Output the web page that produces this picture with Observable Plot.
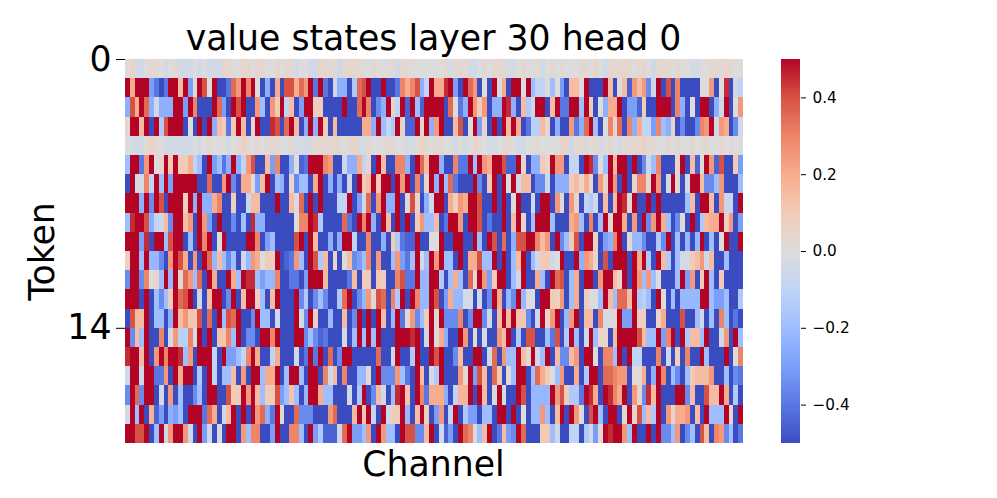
<!DOCTYPE html>
<html>
<head>
<meta charset="utf-8">
<script src="https://cdn.jsdelivr.net/npm/d3@7"></script>
<script src="https://cdn.jsdelivr.net/npm/@observablehq/plot@0.6"></script>
<style>
html,body{margin:0;padding:0;background:#fff;overflow:hidden}
#chart{display:flex;width:997px;height:498px}
#chart svg{display:block;flex:none}
</style>
</head>
<body>
<div id="chart"></div>
<script>
// Values in tenths, one array per token row.
const row00=[0,.6,-.4,-.4,0,.3,.3,0,-.4,0,.3,-.4,-.4,-.4,0,-.4,0,-.4,-.4,-.4,.4,.4,0,0,.4,.4,0,.4,.4,0,0,.4,0,.3,.3,-.4,0,0,-.4,-.4,.4,.4,.3,.3,-.5,.3,.4,.4,.3,0,0,.3,0,0,0,.3,-.4,.3,.3,0,0,0,0,0,0,0,.3,-.3,.3,.3,.3,-.4,-.4,0,.3,0,.3,.4,.3,-.3,-.3,0,.3,0,0,.3,-.4,0,.3,0,.3,0,0,0,.3,.3,0,.4,0,-.4,.4,.3,.3,.4,.4,0,.3,.4,0,-.5,.4,.3,.3,0,.3,0,0,-.3,-.3,0,0,.3,.3,.3,.5,.3,0,0];
const row01=[5,2,5,5,5,-3,-4,-5,-4,5,5,1.5,5,-3,0,5,4,0,5,-5,-5,-4,3.5,2.5,5,3,5,0,-5,-2.5,-5,2,-5,4,4,2,3.5,2.5,5,-4,5,-4,-5,-.5,-2.5,-2.5,-5,-1.5,3.5,4,5,-5,-5,5,-5,-5,-4,3,2,3,4,-2.5,-1,5,2,2,4.5,5,-3,-5,5,3.5,2.5,-5,0,-5,5,0,2,-5,5,5,0,5,-2,-1,-1,0,-2,0,-3,-5,1.5,1.5,0,5,-5,-5,-5,5,1.5,-5,0,1.5,-4.5,2.5,1.5,2.5,-3.5,-.5,5,-5,4,-5,3,-5,-5,-5,-5,0,0,2.5,-5,0,4.5,-5,-.5,-1];
const row02=[-2.5,4,2,5,3.5,-2.5,-.5,-2.5,-2.5,-2.5,5,5,-3,5,3,-5,-5,-5,5,3.5,-3,-5,5,4,5,-5,-5,2.5,-2,-5,2.5,1,5,-1,1.5,-5,-3,5,5,.8,.8,-5,-5,-5,-5,5,-5,-5,3.5,5,3,-5,-3.5,-2.5,5,.5,-1,5,-4.5,5,-2,-4.5,5,5,5,5,-5,3.5,0,-4,-2.5,5,2.5,1,2.5,-5,-2.5,-2.5,5,4.5,-2.5,-5,1.5,-1.5,-.5,5,5,-5,1.5,5,-4,-4,5,5,-2,5,1,-5,0,-2.5,2,2,5,-5,-3,-3,-4.5,1,-5,-5,5,5,5,-5,3,-2.5,-5,0,-5,5,5,-5,-2.5,-.5,5,-5,0,2.5];
const row03=[.5,5,5,1.5,5,-5,5,-1.5,4,5,5,5,-5,0,-5,5,-5,5,-2.5,1.5,1,-4,1,5,1.5,-5,.5,5,-5,-5,4.5,4,-5,3.5,5,1.5,-5,-2.5,5,-2.5,5,1,-5,1.5,-5,-5,-5,-5,-5,2,2,-2.5,5,-2,-1,-1.5,5,.5,-4.5,-4.5,5,.5,5,-2.5,2.5,5,-5,-5,1.5,4,-5,0,5,-3,.5,-5,5,-5,5,1.5,5,2,-5,-4,-1.2,-1.2,1.5,.5,-5,-2.5,-5,-5,2.5,-4,-2.5,3.5,5,-2,-5,0,3,.5,3.5,-5,3,-2.5,2,-1,-1,-3,3,-2,-2.5,.5,-5,-3.5,-5,-5,-3.5,3,2.5,5,-.5,2.5,2,-5,-3.5,-.5];
const row04=[0,-.3,-.4,-.4,.3,.6,.3,0,-.3,-.3,-.4,-.4,-.4,-.3,0,-.3,0,.3,0,0,0,-.3,0,.3,.6,.3,0,.3,0,.3,.3,.3,0,0,.3,-.3,-.3,-.4,-.3,.3,.3,.3,.3,.4,.3,0,.3,.6,-.3,-.3,.3,0,0,0,.3,.3,0,0,-.3,-.3,.3,.6,.3,0,.3,.3,0,0,-.3,0,-.3,0,.6,.3,0,-.3,-.3,0,.3,.3,0,-.4,-.4,0,0,.3,0,0,0,0,.4,.6,-.6,.3,.3,.3,0,.3,-.3,0,.3,0,-.3,.3,.3,.3,.4,.6,.3,.3,0,0,.3,0,.3,0,0,.3,0,.3,.3,0,0,.3,0,.3,0,0];
const row05=[-2,5,5,-4,2.5,5,0,.5,5,1,5,1,1,2,-1,-2,-5,5,-3,-2,-4,-2.5,5,-2.5,-1,2.5,4,-5,-5,1.5,-3,3,-5,-5,-2.5,0,-4.5,-4,5,5,5,3,2.5,-5,-5,-.5,-2.5,-2.5,2,-1,.5,-5,5,1.5,-5,-5,3,3,-2.5,-5,5,3.5,1.5,5,5,-2.5,-5,-5,3,-4,-4,5,-2,5,2.5,2,5,5,4,-4.5,-4.5,5,.5,-5,-2.5,-2.5,1,.5,5,2.5,2.5,-5,-.8,-.8,-5,5,4.5,-3.5,0,-2,5,1.5,5,5,-5,5,-5,-3.5,-.5,-2,3,-5,-5,-5,.5,5,-5,1.5,-4.5,0,5,2.5,-4.5,4,-5,-5,1,-3];
const row06=[-5,5,-.3,-.3,3,-1,5,-2,5,-3,5,5,5,5,5,-5,-5,3.5,-5,-5,2.5,5,-3.5,-5,2,2,0,-3,1.5,5,-5,-2,-2.5,-5,.5,-3.5,-2,-2,-5,2,5,-5,-2.5,-5,-2.5,-5,-.5,-5,5,1,1.5,5,1,5,5,-5,5,2.5,5,-5,3,-4.5,.5,5,-2.5,5,-2,3.5,-4,-5,-5,-5,5,-3.5,-5,1,5,-5,5,0,5,-.5,1.5,1.5,-5,-3.5,-3.5,-.5,-5,-2.5,-2.5,-2.5,1,1.5,.5,2,.3,-5,2.5,.5,5,2.5,-5,5,-5,.5,3,3,.3,5,2.5,-5,-.3,5,.3,-5,-.3,5,5,1.5,-3.5,-3.5,-2,2.5,-5,-5,-5,-2];
const row07=[5,5,5,-2.5,5,-3.5,5,4,-5,5,5,5,.8,5,-2.5,5,-2.5,-2.5,2,3,-5,-5,.8,-5,-5,-.7,1.5,1.5,-5,-5,-5,5,-5,-5,1.5,-.2,3.5,-5,5,-5,5,-5,-5,-5,-1,-1,5,-5,-3,-.5,3.5,-5,2.5,5,-2.5,-2.5,5,-5,.3,4,.5,-5,-2.5,-.5,5,5,-5,2,.8,2.5,2,5,5,4,-5,-5,5,-5,5,-5,0,5,-5,-5,-.5,-5,5,5,-5,2.5,.2,-5,2.5,.5,-5,-1,-1.5,-.5,-5,1.5,-5,1.5,5,4.5,.3,5,-5,-5,5,-5,5,-5,-5,-5,-5,-5,-2,1.5,-5,5,5,1.5,-5,2.5,-.7,-.7,-5,5];
const row08=[-2,4.5,5,5,4,-2.5,-1,-.5,1.5,-3.5,5,5,1.5,2.5,-5,5,2.5,-3,-5,5,-5,-5,-3.5,-5,-2,-5,4.5,-2.5,-2.5,-5,-5,-5,-5,-5,-5,0,3,3,5,4.5,-1.5,-5,-5,-5,-5,3.5,-4,-5,5,3,5,-2.5,-5,5,1.5,-5,5,-5,5,-5,1,2.5,-2,-2,1.5,-5,-4,5,5,2.5,-5,5,5,4,-5,-4,-5,-5,5,-5,1.5,5,.5,-5,-2,5,5,5,-2,-5,-5,-5,2,2.5,-2,-5,3,-5,-2,5,.5,5,5,2,-5,2.5,-5,5,-3.5,2.5,5,2,-2,-5,-3.5,.3,-5,5,-5,-1.5,1.5,2,2,5,.8,2.5,-5,-3];
const row09=[5,5,5,-3,4.5,-5,5,5,-2,4,5,5,-5,-2,-5,5,3,5,-5,0,5,-5,-5,-5,-5,5,5,3,-5,-3,-2,-5,-5,-5,-5,4,5,-5,5,1.5,-5,-5,-2.5,-5,-2.5,5,5,-1,-5,-5,3,-5,-5,-2.5,-5,1,-1.5,-4,-4.5,-4.5,5,-5,-5,0,0,5,-5,-5,5,5,-5,-5,5,-2,-5,5,4,-5,3.5,-5,-2.5,4,4,5,5,3,1.5,2.5,-5,5,-3.5,-2,1,4,-5,5,5,.5,-5,-3,-2.5,3,5,-5,.3,-2.2,-2.2,-3.5,-5,-5,-1.5,-3.5,5,-5,-2,-5,-2.2,-5,-2.2,5,-5,-2,-5,0,5,-5,-5,5];
const row10=[.8,5,5,-2,5,-2.2,-2.2,-3.5,-5,2.5,5,4,2,-5,2.5,-5,5,3.5,-2.2,1.5,-2,-3.5,-2,-5,-.5,-2.2,2.5,2,0,1,.8,5,-5,-4.5,-4,2.5,-2,-5,5,4,-1.5,1.5,-5,.5,-5,0,1.5,-3.5,-3,-2,3,-5,2.5,-5,-5,-2,2.5,-3,-4,-2,5,-.3,-2,5,2.5,5,-2,-2,-5,5,-5,2,2,4,-2,-2,5,-5,5,-5,-2,1.5,5,-5,-2,-.5,1,1,-.5,0,5,-5,-5,5,-2.5,2.5,2,.5,-5,4,-5,5,5,5,-5,5,2,5,-1.5,-5,5,1.5,-1.5,-5,-2,-.3,-.3,1,1.5,2.5,-.5,1.5,-5,-5,-2,-5,-5,-5];
const row11=[-3.5,5,5,-3.5,3,0,.5,-2,5,-2.2,5,.3,3.5,2.5,-2,3.5,-5,5,2,-5,-5,5,2,-2,5,4.5,4.5,-2,-3,-2.2,-2.2,3,-5,-5,-4,-4,-5,-3,5,5,5,1.5,-5,-5,-5,-5,-4,1.5,-5,.9,.9,-5,1,.8,-5,-5,3,4,-4,-4,5,-2.2,-2.2,5,5,-1.5,-5,-2,2,-2,-5,3.5,.3,5,2.5,-3,1,5,5,-5,-2,-.5,5,-5,-5,2,-2,-5,5,3.5,4,-5,-2,2,-5,5,5,-5,2.5,5,5,1.5,.5,5,-5,5,2.5,-2,2.5,-2,0,-5,-5,-5,-2,5,-3,2.5,-5,1,5,-2,-5,1,-5,-5,-5,-5];
const row12=[5,5,5,-5,5,-5,-2,-3.5,-2,1,5,3.5,4,5,-5,-.5,-5,1.5,5,5,-5,-3.5,5,-5,1.5,5,5,.8,-2,-5,1.5,5,-5,-5,-5,5,-3.5,-1.5,-5,-3.5,-2,-3.5,-5,-5,-1.5,3.5,5,-5,-3.5,-2.2,2.5,.3,4,3.5,-5,3,-1.5,5,-5,5,3,-2.2,-2.2,5,4,-5,-3,2,-2.2,-2.2,-.3,-.3,-5,-.5,-5,-3.5,5,2,-5,-2.2,-3.5,5,-2.2,0,0,-5,5,5,1,.8,2.5,-5,-2,2,-5,.8,0,0,-2,5,1.5,-2,3.5,3.5,1.5,5,-1.5,-1.2,-2,-5,5,0,-5,-2,-5,-2.2,-2.2,-2.2,-2.2,5,5,-2,-3,-3,-2,-5,-5,-1.5];
const row13=[-5,4,1.5,1.5,5,-5,-2,-2,-5,-2.5,5,1.5,2.5,1.2,1.2,4,-5,3.5,-5,5,-2,4,3.5,5,-5,-5,-3.5,5,-2,-2,-5,-.5,-5,-5,-5,5,-.3,-3.5,5,.8,-5,-5,-2.2,-5,-5,1.5,-5,-3.5,5,-5,5,-5,5,1.5,-5,-2.2,5,-4,.3,2.5,-3.5,-2,1,5,.3,5,-3.5,-3.5,-3.5,3,-5,-3.5,5,5,-3.5,-.5,-5,1.5,5,1.5,5,1.2,1.2,-3.5,-5,-.5,5,.5,2.5,5,-5,-2.2,2.5,5,-5,1.5,1.5,-5,3,-.2,-.2,.5,5,-3,-3,5,.8,.8,-5,-5,.5,2,-5,-5,-5,4,-5,-5,-2,-.5,-5,-2,-5,3,-2,-5,-4,-5];
const row14=[5,-3.5,1.5,-2,5,-5,-5,3,-5,-.3,2.5,-1.2,-1.2,3,-.3,5,-5,5,-5,1.2,1.2,3,-2,5,-5,-3.5,-3.5,-5,5,5,3,5,-5,-5,-5,5,5,-3.5,-2,-3.5,-4.5,-4,-5,-5,-5,-.3,-5,-2,5,-2,5,-2,5,-5,-5,-5,5,5,5,4.5,5,-5,-.5,5,0,2,-2.5,-5,-5,5,2.5,-5,.2,-5,-.3,-5,-5,2.5,1.5,5,-5,-1.5,-5,4,4,-5,-5,-2,-4,4,-5,-1.5,5,-2,-5,-.5,5,-2,.5,.5,-5,1.5,5,5,5,5,4,1.5,-2,-2,5,-3,3,5,-5,5,-1.5,1.5,1.5,-2,5,-5,-5,-.5,2.5,-5,5,-2];
const row15=[4.5,5,5,1.5,5,-5,2.5,5,3,5,5,4.5,-2,2.5,-5,5,5,5,-1,-5,5,-3,-3,-2,-1,3,5,2,-5,-5,-1,2,-5,-5,-5,-.5,-5,-4,5,-4,5,-5,3.5,-5,-3.5,5,5,-5,-5,-5,-5,-5,3.5,-5,-5,-.5,5,-5,-5,-1.5,5,-5,-5,5,4,5,-5,-5,-3.5,1.5,-5,-5,5,5,-5,-.3,3.5,-5,2.5,-2,-2,5,1.5,.3,5,-.5,-2,5,-5,1.5,-3.5,-3.5,1.5,2.5,-5,5,5,0,-5,3,3,-2,5,-5,5,-1,-1,-5,-5,-5,3,-5,-.5,-5,.8,-5,3,-5,-5,5,-2,-5,-5,-5,5,-5,0,3];
const row16=[-.5,5,5,-.5,5,5,-4,-4,2.5,-5,5,2,5,5,-5,-1.5,-5,5,-1,-5,-2,-2,1.5,-5,2.5,-5,5,5,-2,2,2,5,-5,-2,5,5,-2,-5,5,5,-5,3,-.5,1.5,-5,3,-5,-5,-2.2,-2.2,.3,-5,5,-3.5,-3.5,-3.5,2.5,-2,-4,-5,5,1.5,-5,-.3,-1.5,5,-5,-5,-5,2.5,.3,5,-3,4,1.5,-5,3.5,1,-5,.2,-2,5,5,-5,-2,3.5,2,1,0,-2,2.5,-5,-5,2,-5,-1.5,5,5,-5,3.5,3.5,3,2.5,2.5,-5,.2,.2,2,-5,-2.5,5,3,-5,-2,-3.5,-5,-2,1,1.5,1.5,1.5,2.5,-5,-5,-2,-5,-3.5,-4];
const row17=[-3.5,5,3.5,-3.5,5,5,-5,-.3,-5,2.5,-5,-2,-5,-5,-3.5,-2,-5,5,5,-5,-5,4,1,1,5,2.5,5,1.5,-2,1,1,4,-3,-2,1.2,-2,-5,-2.2,5,5,2,-2,-2,-5,-5,-5,-.3,-5,-1.5,5,-5,-3.5,1.5,-.5,-5,-2,4.5,5,1.2,-5,5,3,-4,2,2,2,-2.5,-5,-1,1.7,1.7,5,-5,5,1.5,-5,-.3,5,-.3,-5,-5,5,4,-5,-2.2,-2.2,-2.2,-2.2,5,2.5,4,1,-1.5,-1.5,-4,5,4.5,2,-5,5,4.5,3,2,5,-5,2.5,.5,-3.5,4.5,1.5,5,-5,-5,-5,5,5,-3.5,1.5,-5,-5,4,1.5,1.5,5,2,-5,-1.5,-5];
const row18=[-.3,5,-2,5,-5,1.8,-4.5,-3,-5,-2.5,-3,-2,-5,5,5,5,-4,3.5,2,-5,-.5,1.5,5,-5,5,-5,5,2.5,3.5,-2.5,-4,5,.3,-5,-5,3.5,-3.5,-3.5,-3.5,-5,-5,-5,2.5,3.5,-5,-5,-5,1.5,5,1.2,5,-1,-5,5,-.5,1,1,5,-2.2,-5,1.5,5,.8,-5,-3,2.5,-5,-1,5,-5,-1.5,-3,-3,-5,-2,-2,-5,5,5,-5,5,-5,0,-5,-2.2,-2.2,2.5,-2,-5,1.5,5,-5,5,2.5,0,-5,4,5,-2,-5,5,5,-5,.3,5,.5,4,-2,1.5,-1.5,5,-5,2.5,.5,2,2,2.5,-5,1.5,-5,5,-2,-2,-2,5,.5,-5,5];
const row19=[5,5,4,4,5,-5,-2,5,-.5,2.5,5,5,2.5,-.5,-5,5,-3,-.5,-5,-.2,-5,5,5,-5,2.5,-2,3,3,-5,-5,-3,5,-5,-5,3,3,-2,-5,5,-3,-1.5,-4.5,-4.5,-4.5,-.5,3.5,5,-3,-3,-2,2.5,-5,5,2.5,-2,-2,-5,5,4,4,-3.5,-3.5,1.5,5,-5,-.5,-4.5,-3,-5,5,3.5,3,-.2,-2,1.5,5,-5,-4,1.5,-3,-3.5,5,3.5,-5,-5,-5,1,1,-2,-.5,-5,-5,-1,-1,-5,-1.5,-.5,-3,.3,5,4.5,5,5,2.5,-2,5,-5,-5,5,-5,5,-3.5,-3.5,-2,2.5,-5,-3.5,-2,-5,4,1.5,-5,3,2.5,-3.5,-2,-5,-4];

const tokenRows=[row00,row01,row02,row03,row04,row05,row06,row07,row08,row09,row10,row11,row12,row13,row14,row15,row16,row17,row18,row19];
const channelCount=128;
const tokenTicks=[0,14];
const colorbarTicks=[-.4,-.2,0,.2,.4];
const colorStops=[-.5,-.4,-.3,-.2,-.1,0,.1,.2,.3,.4,.5];
const coolwarm=["#3b4cc0","#5977e3","#7b9ff9","#9ebeff","#c0d4f5","#dddcdc","#f2cbb7","#f7ac8e","#ee8468","#d65244","#b40426"];
const titleText="value states layer 30 head 0";
const font="'DejaVu Sans'";

const cells=tokenRows.flatMap((r,t)=>r.map((v,c)=>({c,t,v:v/10})));
const colorScale={type:"linear",domain:colorStops,range:coolwarm,clamp:true};

const main=Plot.plot({
  width:765,height:498,
  marginLeft:125,marginRight:22,marginTop:59,marginBottom:55,
  style:{background:"#fff",fontFamily:font,color:"#000"},
  x:{domain:[0,channelCount],axis:null},
  y:{domain:[0,tokenRows.length],reverse:true},
  color:colorScale,
  marks:[
    Plot.rect(cells,{x1:"c",x2:d=>d.c+1,y1:"t",y2:d=>d.t+1,fill:"v",shapeRendering:"crispEdges"}),
    Plot.axisY({ticks:tokenTicks,tickSize:9,tickPadding:5,tickFormat:d=>String(d),fontSize:34.7,label:null,stroke:"#000"}),
    Plot.text(["Token"],{frameAnchor:"left",textAnchor:"middle",dx:-83,rotate:-90,fontSize:34.7,fill:"#000"}),
    Plot.text(["Channel"],{frameAnchor:"bottom",dx:-1,dy:32,fontSize:34.7,fill:"#000"}),
    Plot.text([titleText],{frameAnchor:"top",dx:-1,dy:-34,fontSize:34.7,fill:"#000"})
  ]
});

const barSteps=d3.range(256);
const bar=Plot.plot({
  width:232,height:498,
  marginLeft:16,marginRight:197,marginTop:59,marginBottom:55,
  style:{background:"#fff",fontFamily:font,color:"#000"},
  x:{domain:[0,1],axis:null},
  y:{domain:[-.5,.5],axis:null},
  color:colorScale,
  marks:[
    Plot.rect(barSteps,{x1:0,x2:1,y1:d=>-.5+d/256,y2:d=>-.5+(d+1)/256,fill:d=>-.5+(d+.5)/256,shapeRendering:"crispEdges"}),
    Plot.axisY({anchor:"right",ticks:colorbarTicks,tickSize:5,tickPadding:7,tickFormat:d3.format(".1f"),fontSize:15.3,label:null,stroke:"#000"})
  ]
});

document.getElementById("chart").append(main,bar);
</script>
</body>
</html>
